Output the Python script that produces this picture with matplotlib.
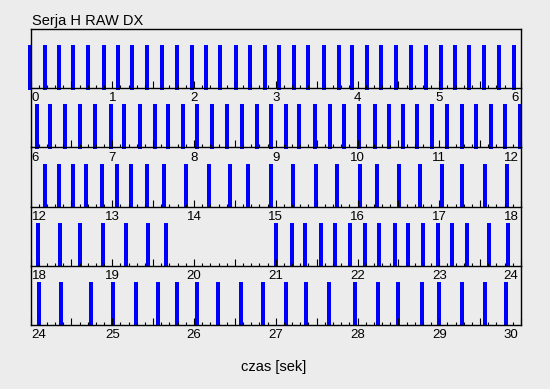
import matplotlib
matplotlib.use("Agg")
import matplotlib.pyplot as plt
from matplotlib.ticker import MultipleLocator, FuncFormatter
import matplotlib.transforms as mtransforms

plt.rcParams['font.family'] = ['Liberation Sans', 'DejaVu Sans']

title = "Serja H RAW DX"
xlabel = "czas [sek]"
row_span = 6.0
row_starts = [0, 6, 12, 18, 24]

# event times (seconds), one list per strip
events_row1 = [-0.01, 0.18, 0.35, 0.52, 0.70, 0.90, 1.07, 1.24, 1.43, 1.61, 1.79, 1.98,
               2.15, 2.32, 2.51, 2.69, 2.87, 3.04, 3.22, 3.39, 3.59, 3.77, 3.93, 4.12,
               4.29, 4.47, 4.66, 4.84, 5.02, 5.19, 5.36, 5.55, 5.73, 5.91]
events_row2 = [6.08, 6.24, 6.42, 6.61, 6.79, 6.99, 7.14, 7.34, 7.52, 7.68, 7.87, 8.04,
               8.22, 8.40, 8.59, 8.77, 8.94, 9.12, 9.29, 9.48, 9.66, 9.84, 10.02, 10.21,
               10.39, 10.56, 10.73, 10.91, 11.10, 11.28, 11.45, 11.63, 11.80, 11.99]
events_row3 = [12.18, 12.35, 12.52, 12.68, 12.88, 13.06, 13.23, 13.43, 13.63, 13.90,
               14.18, 14.44, 14.66, 14.94, 15.21, 15.49, 15.75, 16.03, 16.24, 16.51,
               16.77, 17.03, 17.28, 17.56, 17.83]
events_row4 = [18.09, 18.36, 18.61, 18.89, 19.17, 19.44, 19.66, 21.00, 21.20, 21.36,
               21.55, 21.73, 21.91, 22.09, 22.26, 22.46, 22.62, 22.80, 22.99, 23.16,
               23.34, 23.61, 23.84]
events_row5 = [24.10, 24.37, 24.74, 25.01, 25.29, 25.56, 25.79, 26.04, 26.29, 26.58,
               26.84, 27.13, 27.37, 27.65, 27.97, 28.25, 28.50, 28.79, 29.00, 29.28,
               29.56, 29.82]
events = [events_row1, events_row2, events_row3, events_row4, events_row5]

W, H = 550, 389
fig = plt.figure(figsize=(W / 100, H / 100), dpi=100)
bg = '#ececec'
fig.patch.set_facecolor(bg)

left_px, right_px = 30.5, 521.0
top_px, bottom_px = 29.0, 325.0
n = len(row_starts)
row_h = (bottom_px - top_px) / n

for i, (start, ev) in enumerate(zip(row_starts, events)):
    y_top = top_px + i * row_h
    ax = fig.add_axes([left_px / W, 1 - (y_top + row_h) / H,
                       (right_px - left_px) / W, row_h / H])
    ax.set_facecolor('none')
    ax.set_xlim(start, start + row_span)
    ax.set_ylim(0, 1)
    ax.bar(ev, 0.75, width=0.049, bottom=-0.025, color='#0000ff', align='center',
           clip_on=False, zorder=1, antialiased=False, linewidth=0)
    for s in ['left', 'right', 'bottom', 'top']:
        ax.spines[s].set_linewidth(1.0)
        ax.spines[s].set_color('black')
        ax.spines[s].set_zorder(3)
    if i != 0:
        ax.spines['top'].set_visible(False)
    ax.set_yticks([])
    ax.xaxis.set_major_locator(MultipleLocator(0.5))
    ax.xaxis.set_minor_locator(MultipleLocator(0.1))
    ax.xaxis.set_major_formatter(FuncFormatter(
        lambda v, p: f"{int(round(v))}" if abs(v - round(v)) < 1e-6 else ""))
    ax.tick_params(axis='x', which='major', direction='in', length=5.2, width=0.8,
                   pad=3, labelsize=9.5, colors='black')
    ax.tick_params(axis='x', which='minor', direction='in', length=2.4, width=0.8)
    fig.canvas.draw()
    labels = ax.get_xticklabels()
    locs = ax.get_xticks()
    for lab, loc in zip(labels, locs):
        if abs(loc - start) < 1e-6:
            lab.set_horizontalalignment('left')
            lab.set_transform(lab.get_transform() +
                              mtransforms.ScaledTranslation(1.2 / 100, 0, fig.dpi_scale_trans))
        elif abs(loc - (start + row_span)) < 1e-6:
            lab.set_horizontalalignment('right')
            lab.set_transform(lab.get_transform() +
                              mtransforms.ScaledTranslation(-2.5 / 100, 0, fig.dpi_scale_trans))

fig.text(32 / W, 1 - 25 / H, title, fontsize=10.5, va='baseline', ha='left')
fig.text(274 / W, 1 - 371 / H, xlabel, fontsize=10.5, va='baseline', ha='center')

fig.savefig('out.png', dpi=100, facecolor=bg)
